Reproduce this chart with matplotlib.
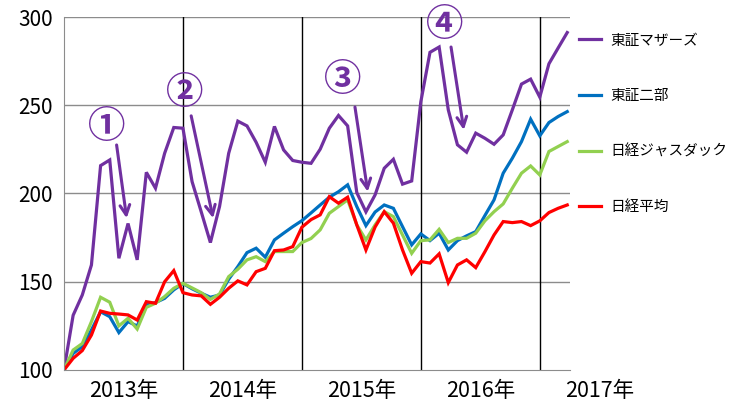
import matplotlib
matplotlib.use("Agg")
import matplotlib.pyplot as plt

plt.rcParams['font.family'] = ['Noto Sans CJK JP', 'DejaVu Sans']

# 月次の指数（2013年初=100）
mothers = [100, 131, 142.5, 159.5, 215.8, 219, 163.3, 183, 162.4, 212, 203, 222.8, 237.4,
           237, 206.7, 189.6, 172.2, 192.6, 222.8, 241, 238.3, 229, 217.7, 238, 224.7, 218.7,
           217.7, 217.1, 225.1, 237, 244.2, 238.3, 200.5, 189.6, 199.2, 214.3, 219.4, 205.3, 207.1,
           252, 280, 283, 247.4, 227.6, 223.4, 234.2, 231.3, 227.9, 233.2, 247.4, 262, 264.8,
           254.6, 273.5, 282.4, 291.2]
tse2 = [100, 109.4, 113.2, 122.7, 133, 130.2, 121.2, 127.4, 124.9, 136.8, 138.2, 140.6, 145.4,
        149, 146, 143.5, 141.2, 142.5, 151.4, 158.6, 166.5, 169, 163.9, 173.7, 177.5, 181.2,
        184.6, 189, 193.5, 197.9, 201, 204.9, 192.6, 181.8, 189.5, 193.5, 191.6, 181.2, 170.9,
        177.1, 173.3, 177.5, 168, 173.3, 176, 178.4, 187.5, 196.4, 211.5, 220, 229.4, 242.1,
        232.7, 240.2, 243.6, 246.4]
jasdaq = [100, 111.3, 115, 127.4, 141.2, 138.4, 125, 129.3, 123.2, 135.5, 137.8, 141.6, 146.3,
          149.1, 146.5, 143.8, 140, 143.1, 152.9, 157.1, 162.4, 164.2, 161.4, 167.1, 167.1, 167.1,
          172.2, 174.5, 179.4, 188.8, 192.6, 196.4, 182.2, 173.7, 182.2, 189.7, 186.9, 176.5, 166.1,
          173.3, 173.7, 179.7, 172.2, 174.6, 174.6, 177.5, 184.5, 189.7, 194.1, 203, 211.5, 215.6,
          210.5, 223.8, 226.6, 229.4]
nikkei = [100, 106.6, 111, 119.8, 133.4, 132.1, 131.7, 131.2, 128.3, 138.7, 137.8, 150, 156.3,
          143.8, 142.5, 142, 137.2, 141.2, 146.3, 150.5, 148.2, 155.7, 157.6, 167.6, 168, 169.9,
          180.9, 185.2, 187.9, 198.2, 194.5, 197.9, 182.2, 168, 181, 189.7, 183.2, 168, 154.8,
          161.4, 160.6, 165.8, 149.5, 159.5, 162.4, 158, 167, 176.5, 184.1, 183.5, 184.1, 181.8,
          184.5, 189.2, 191.6, 193.5]

series_names = ['東証マザーズ', '東証二部', '日経ジャスダック', '日経平均']
series_colors = ['#7030A0', '#0070C0', '#92D050', '#FF0000']
years = ['2013年', '2014年', '2015年', '2016年', '2017年']
year_bounds = [13, 26, 39, 52]

# 注目した下落局面: (番号, 文字位置, 矢印の始点, 矢印の終点)
marks = [('①', (4.65, 238), (5.75, 227.5), (6.85, 186)),
         ('②', (13.2, 257), (13.9, 244), (16.3, 186)),
         ('③', (30.5, 264.5), (31.8, 249), (33.2, 201)),
         ('④', (41.6, 295.5), (42.3, 283), (43.7, 236))]

fig = plt.figure(figsize=(7.33, 4.11), dpi=100)
ax = fig.add_axes([0.0873, 0.0998, 0.6903, 0.8588])

x = list(range(len(mothers)))
for vals, name, col in zip([mothers, tse2, jasdaq, nikkei], series_names, series_colors):
    ax.plot(x, vals, color=col, lw=2.3, label=name, solid_joinstyle='miter')

ax.set_xlim(0, 55.3)
ax.set_ylim(100, 300)
ax.set_yticks([100, 150, 200, 250, 300])
ax.tick_params(axis='y', length=0, labelsize=15, pad=8)
ax.set_xticks([])
for yv in [150, 200, 250, 300]:
    ax.axhline(yv, color='#8c8c8c', lw=1, zorder=0)
for xv in year_bounds:
    ax.axvline(xv, color='black', lw=1, zorder=0)

for s in ['top', 'right']:
    ax.spines[s].set_visible(False)
for s in ['left', 'bottom']:
    ax.spines[s].set_color('#8c8c8c')

for k, lab in enumerate(years):
    ax.text(6.5 + 13 * k, -0.06, lab, transform=ax.get_xaxis_transform(),
            ha='center', va='center', fontsize=15.5, clip_on=False)

for num, tpos, start, end in marks:
    ax.text(tpos[0], tpos[1], num, color='#7030A0', fontsize=27, fontweight='bold',
            ha='center', va='center')
    ax.annotate('', xy=end, xytext=start,
                arrowprops=dict(arrowstyle='->,head_length=0.7,head_width=0.35',
                                color='#7030A0', lw=2.2, shrinkA=0, shrinkB=0))

ax.legend(loc='upper left', bbox_to_anchor=(1.0, 0.978), frameon=False, fontsize=10.5,
          handlelength=1.55, handletextpad=0.65, labelspacing=2.85, borderaxespad=0.2)

fig.savefig('out.png', dpi=100)
